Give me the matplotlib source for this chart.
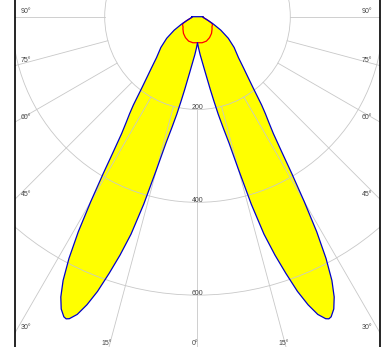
import numpy as np
import matplotlib
matplotlib.use('Agg')
import matplotlib.pyplot as plt

# Light distribution (gamma in degrees from nadir, intensity in cd)
# C0-C180 plane (blue, filled yellow), symmetric
gamma_c0 = [0, 2, 4, 6, 8, 10, 11, 12, 13, 14, 15, 16, 17, 18, 19, 20, 21, 22, 23, 23.5,
            24, 25, 26, 27, 28, 29, 30, 31, 32, 33, 34, 35, 36, 38, 40, 42, 45, 50, 55, 60,
            65, 70, 75, 80, 85, 90]
int_c0 = [56, 68, 82, 98, 122, 160, 185, 215, 245, 280, 340, 420, 490, 540, 585, 630, 665, 692, 707, 710,
          708, 695, 672, 638, 590, 530, 460, 395, 340, 300, 275, 255, 235, 195, 168, 148, 125, 103, 81, 58,
          38, 25, 18, 14, 12, 12]

# C90-C270 plane (red)
gamma_c90 = [0, 10, 20, 30, 40, 50, 55, 60, 65, 70, 75, 80, 85, 90]
int_c90 = [56, 57, 56, 52, 47, 41, 38, 37, 35, 25, 18, 14, 12, 12]

circles = [200, 400, 600]
ray_angles = [-90, -75, -60, -45, -30, -15, 0, 15, 30, 45, 60, 75, 90]

px = 2.155  # cd per pixel
xlim = (-393.3, 393.3)
ylim = (-711.8, 36.0)
grid_col = '#c8c8c8'
txt_col = '#444444'
font = 'Liberation Sans'


def to_xy(gam, inten):
    # mirror one half to get the full curve from -90 to 90
    g = np.concatenate([-np.array(gam[::-1]), np.array(gam[1:])])
    i = np.concatenate([np.array(inten[::-1]), np.array(inten[1:])])
    t = np.radians(g)
    return i * np.sin(t), -i * np.cos(t)


fig = plt.figure(figsize=(3.87, 3.47), dpi=100)
ax = fig.add_axes([15 / 387, 0, 365 / 387, 1])
ax.set_xlim(xlim)
ax.set_ylim(ylim)
ax.set_xticks([])
ax.set_yticks([])
for s in ['top', 'bottom']:
    ax.spines[s].set_visible(False)
for s in ['left', 'right']:
    ax.spines[s].set_linewidth(1.2)
    ax.spines[s].set_color('black')

# curves
x0, y0 = to_xy(gamma_c0, int_c0)
ax.fill(x0, y0, color='#ffff00', lw=0, zorder=1)

# grid
for r in circles:
    ax.add_patch(plt.Circle((0, 0), r, fill=False, ec=grid_col, lw=0.6, zorder=2))
    ax.text(0, -r + 1, str(r), ha='center', va='baseline', fontsize=5,
            family=font, color=txt_col, zorder=5)
for a in ray_angles:
    t = np.radians(a)
    ax.plot([200 * np.sin(t), 1200 * np.sin(t)], [-200 * np.cos(t), -1200 * np.cos(t)],
            color=grid_col, lw=0.6, zorder=2)

x90, y90 = to_xy(gamma_c90, int_c90)
ax.plot(x90, y90, color='#ff0000', lw=0.9, zorder=3)
ax.plot(np.append(x0, x0[0]), np.append(y0, y0[0]), color='#0000cc', lw=0.9, zorder=4)

# angle labels where the rays meet the frame
for a in ray_angles:
    t = np.radians(abs(a))
    lab = str(abs(a)) + '°'
    if a == 0 or -xlim[1] / np.tan(t) < ylim[0]:
        xb = np.sign(a) * -ylim[0] * np.tan(t) - 2 * px
        ax.text(xb, ylim[0] + 4 * px, lab, ha='center', va='center', fontsize=5,
                family=font, color=txt_col)
    else:
        yb = -xlim[1] / np.tan(t) + 5 * px
        if a < 0:
            ax.text(xlim[0] + 6 * px, yb, lab, ha='left', va='center', fontsize=5,
                    family=font, color=txt_col)
        else:
            ax.text(xlim[1] - 8 * px, yb, lab, ha='right', va='center', fontsize=5,
                    family=font, color=txt_col)

fig.savefig('out.png', dpi=100)
